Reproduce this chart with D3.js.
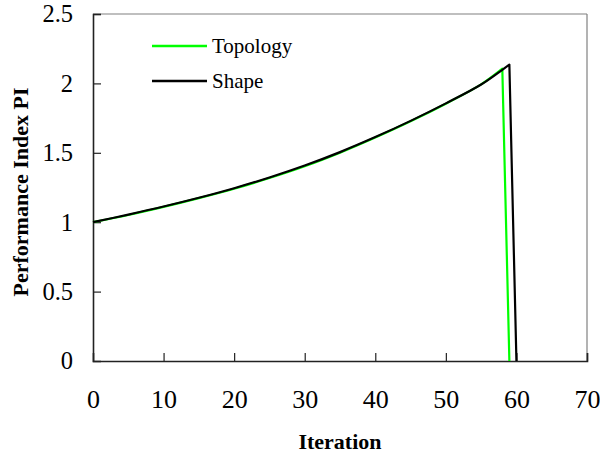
<!DOCTYPE html>
<html>
<head>
<meta charset="utf-8">
<script src="https://cdn.jsdelivr.net/npm/d3@7"></script>
<style>
  body { margin: 0; background: #fff; }
  text { font-family: "Liberation Serif", "Times New Roman", serif; fill: #000; }
</style>
</head>
<body>
<svg id="chart"></svg>
<script>
// data
const topoIter  = [0, 5, 10, 15, 20, 25, 30, 35, 40, 45, 50, 55, 58, 59];
const topoPI    = [1.0, 1.052, 1.110, 1.173, 1.241, 1.318, 1.403, 1.501, 1.610, 1.727, 1.854, 1.993, 2.106, 0];
const shapeIter = [0, 5, 10, 15, 20, 25, 30, 35, 40, 45, 50, 55, 58, 59, 60];
const shapePI   = [1.0, 1.055, 1.113, 1.176, 1.245, 1.322, 1.408, 1.505, 1.613, 1.730, 1.856, 1.992, 2.098, 2.135, 0];
const xTicks = [0, 10, 20, 30, 40, 50, 60, 70];
const yTicks = [0, 0.5, 1, 1.5, 2, 2.5];
const seriesNames = ["Topology", "Shape"];
const seriesColors = ["#00ff00", "#000000"];

const W = 600, H = 456;
const margin = { top: 14, right: 13, bottom: 95, left: 93 };
const width = W - margin.left - margin.right;
const height = H - margin.top - margin.bottom;

const svg = d3.select("#chart")
    .attr("width", W)
    .attr("height", H);

const g = svg.append("g")
    .attr("transform", `translate(${margin.left},${margin.top})`);

const x = d3.scaleLinear().domain([0, 70]).range([0, width]);
const y = d3.scaleLinear().domain([0, 2.5]).range([height, 0]);

// frame: top and right in grey
g.append("line").attr("x1", 0).attr("x2", width).attr("y1", 0).attr("y2", 0)
    .attr("stroke", "#808080").attr("stroke-width", 1.2);
g.append("line").attr("x1", width).attr("x2", width).attr("y1", 0).attr("y2", height)
    .attr("stroke", "#808080").attr("stroke-width", 1.2);

const yAxis = g.append("g")
    .call(d3.axisLeft(y).tickValues(yTicks).tickFormat(d3.format("")).tickSize(-8).tickPadding(20));

const xAxis = g.append("g")
    .attr("transform", `translate(0,${height})`)
    .call(d3.axisBottom(x).tickValues(xTicks).tickSize(-8).tickPadding(0));

[xAxis, yAxis].forEach(a => {
    a.attr("font-family", null);
    a.select(".domain").attr("stroke", "#222").attr("stroke-width", 1.6);
    a.selectAll(".tick line").attr("stroke", "#222").attr("stroke-width", 1.2);
    a.selectAll(".tick text").attr("fill", "#000");
});
yAxis.selectAll(".tick text").attr("font-size", 24.5);
xAxis.selectAll(".tick text").attr("font-size", 26).attr("dy", 0).attr("y", 47);
// the end ticks sit on the frame
xAxis.selectAll(".tick").filter(d => d === 0).select("line").remove();
yAxis.selectAll(".tick").filter(d => d === 0).select("line").remove();

// smooth rise up to the peak, straight drop after it
const rise = d3.line()
    .x(d => x(d[0]))
    .y(d => y(d[1]))
    .curve(d3.curveCatmullRom.alpha(0.5));
const drop = d3.line()
    .x(d => x(d[0]))
    .y(d => y(d[1]));

const series = [
    d3.zip(topoIter, topoPI),
    d3.zip(shapeIter, shapePI)
];

series.forEach((s, i) => {
    const peak = d3.maxIndex(s, d => d[1]);
    const d = rise(s.slice(0, peak + 1)) + drop(s.slice(peak)).replace(/^M/, "L");
    g.append("path")
        .attr("fill", "none")
        .attr("stroke", seriesColors[i])
        .attr("stroke-width", 2.2)
        .attr("stroke-linejoin", "round")
        .attr("d", d);
});

// legend
const legend = g.append("g").attr("transform", "translate(59,32)");
seriesNames.forEach((name, i) => {
    legend.append("line")
        .attr("x1", 0).attr("x2", 55)
        .attr("y1", i * 35).attr("y2", i * 35)
        .attr("stroke", seriesColors[i])
        .attr("stroke-width", 2.5);
    legend.append("text")
        .attr("x", 60)
        .attr("y", i * 35 + 7)
        .attr("font-size", 21)
        .text(name);
});

// axis titles
svg.append("text")
    .attr("x", margin.left + width / 2)
    .attr("y", 449)
    .attr("text-anchor", "middle")
    .attr("font-size", 22)
    .attr("font-weight", "bold")
    .text("Iteration");

svg.append("text")
    .attr("transform", "translate(28,192) rotate(-90)")
    .attr("text-anchor", "middle")
    .attr("font-size", 22)
    .attr("font-weight", "bold")
    .text("Performance Index PI");
</script>
</body>
</html>
